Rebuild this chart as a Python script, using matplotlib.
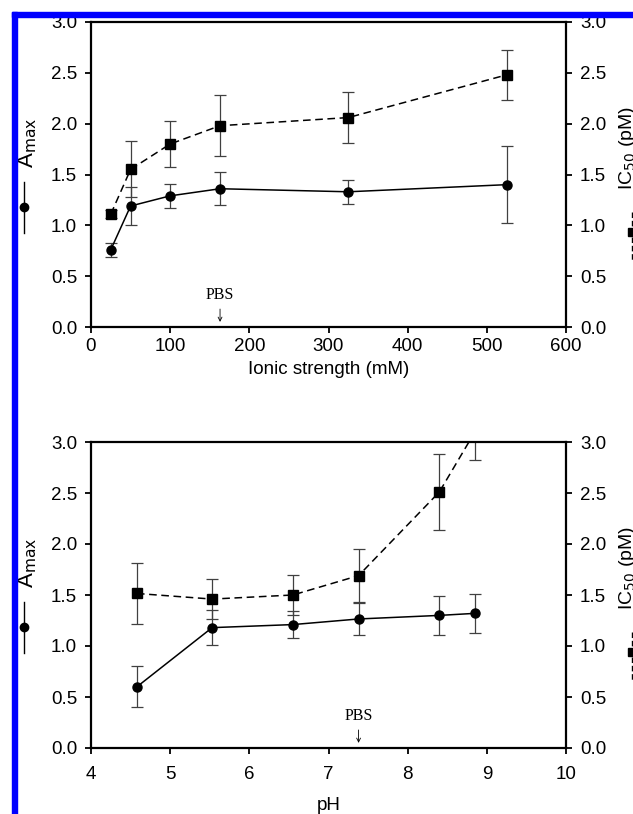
import matplotlib
matplotlib.use("Agg")
import matplotlib.pyplot as plt
from matplotlib.lines import Line2D
from matplotlib.patches import Rectangle

plt.rcParams.update({'font.size': 13.5, 'font.family': ['Liberation Sans', 'DejaVu Sans']})

# ionic strength panel
ionic = [25, 50, 100, 163, 325, 525]
amax_ion = [0.76, 1.19, 1.29, 1.36, 1.33, 1.40]
amax_ion_err = [0.07, 0.185, 0.12, 0.16, 0.12, 0.38]
ic50_ion = [1.11, 1.55, 1.80, 1.98, 2.06, 2.48]
ic50_ion_err = [0.04, 0.275, 0.23, 0.30, 0.25, 0.245]

# pH panel
ph = [4.58, 5.53, 6.55, 7.38, 8.40, 8.85]
amax_ph = [0.60, 1.18, 1.21, 1.265, 1.30, 1.32]
amax_ph_err = [0.20, 0.17, 0.135, 0.16, 0.19, 0.19]
ic50_ph = [1.515, 1.46, 1.50, 1.69, 2.51, 3.10]
ic50_ph_err = [0.295, 0.20, 0.20, 0.26, 0.37, 0.28]

Y_TICKS = [0.0, 0.5, 1.0, 1.5, 2.0, 2.5, 3.0]

W, H = 633, 814
fig = plt.figure(figsize=(W / 100, H / 100), dpi=100)


def px(x, y):
    return x / W, 1 - y / H


def panel(top, bottom, x, a, a_err, ic, ic_err, xlim, xticks, xlabel, pbs_x,
          xpad, labelpad):
    ax = fig.add_axes([91 / W, 1 - bottom / H, 475 / W, (bottom - top) / H])
    ax.errorbar(x, ic, yerr=ic_err, fmt='s--', color='black', ms=6.5, lw=1.1,
                dashes=(5, 3), ecolor='0.25', elinewidth=0.9, capsize=4, capthick=0.9)
    ax.errorbar(x, a, yerr=a_err, fmt='o-', color='black', ms=6.5, lw=1.1,
                ecolor='0.25', elinewidth=0.9, capsize=4, capthick=0.9)
    ax.set_xlim(*xlim)
    ax.set_ylim(0, 3.0)
    ax.set_xticks(xticks)
    ax.set_yticks(Y_TICKS)
    ax.set_yticklabels([f"{v:.1f}" for v in Y_TICKS])
    ax.tick_params(axis='both', direction='out', length=4, width=1.3)
    ax.tick_params(axis='x', pad=xpad)
    ax.tick_params(axis='y', right=True, labelright=True, pad=6)
    for side in ['left', 'right', 'top', 'bottom']:
        ax.spines[side].set_linewidth(1.6)
    ax.set_xlabel(xlabel, labelpad=labelpad)
    ax.annotate('PBS', xy=(pbs_x, 0.05), xytext=(pbs_x, 0.31),
                ha='center', va='center', family='Liberation Serif', fontsize=11.5,
                arrowprops=dict(arrowstyle='->', lw=0.6, color='black',
                                shrinkA=2, shrinkB=0, mutation_scale=7))
    # right label and glyph (cropped at the edge, as in the source)
    fig.text(*px(628, top + 126), 'IC$_{50}$ (pM)', rotation=90,
             ha='center', va='center', fontsize=14)
    gx = 632 / W
    fig.add_artist(Line2D([gx, gx], [1 - (top + 190) / H, 1 - (top + 238) / H],
                          transform=fig.transFigure, color='black', lw=1.0,
                          dashes=(4, 2)))
    fig.add_artist(Line2D([gx], [1 - (top + 210) / H], transform=fig.transFigure,
                          marker='s', ms=6, color='black'))
    # left label and glyph
    fig.text(*px(28, top + 121), 'A$_{\\mathrm{max}}$', rotation=90,
             ha='center', va='center', fontsize=16)
    lx = 24 / W
    fig.add_artist(Line2D([lx, lx], [1 - (top + 160) / H, 1 - (top + 211) / H],
                          transform=fig.transFigure, color='black', lw=1.0))
    fig.add_artist(Line2D([lx], [1 - (top + 185) / H], transform=fig.transFigure,
                          marker='o', ms=6, color='black'))
    return ax


ax1 = panel(22, 327, ionic, amax_ion, amax_ion_err, ic50_ion, ic50_ion_err,
            (0, 600), [0, 100, 200, 300, 400, 500, 600], 'Ionic strength (mM)', 163,
            4, 4)
ax2 = panel(442, 748, ph, amax_ph, amax_ph_err, ic50_ph, ic50_ph_err,
            (4, 10), [4, 5, 6, 7, 8, 9, 10], 'pH', 7.38, 9, 10)

# blue frame
fig.add_artist(Rectangle((12 / W, 0), 5 / W, 1 - 12 / H, transform=fig.transFigure,
                         color='#0000ff', zorder=10))
fig.add_artist(Rectangle((12 / W, 1 - 17 / H), 1, 5 / H, transform=fig.transFigure,
                         color='#0000ff', zorder=10))

fig.savefig("out.png", dpi=100)
